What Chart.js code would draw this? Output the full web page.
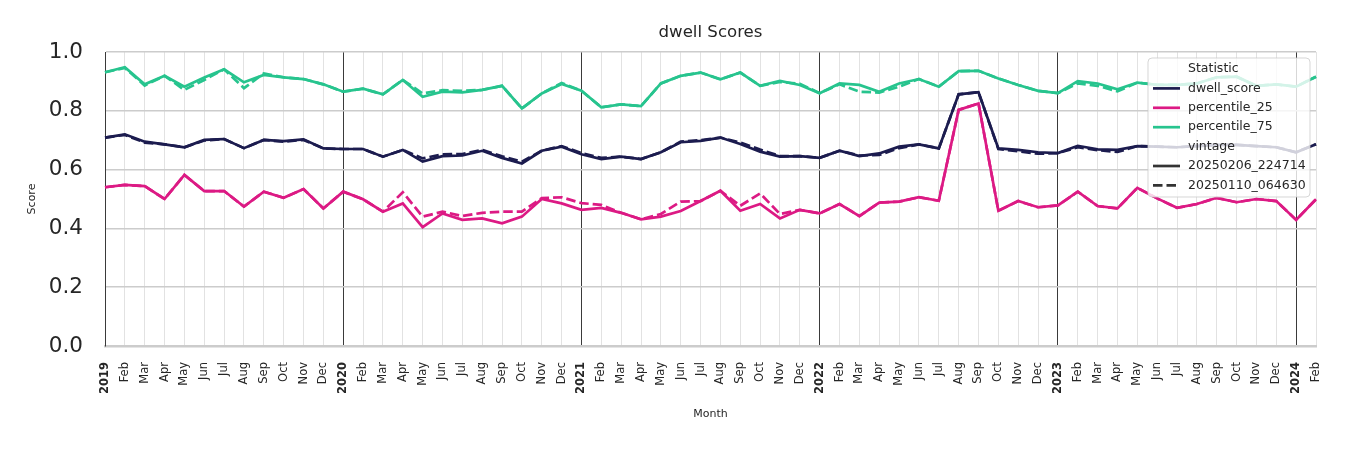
<!DOCTYPE html>
<html>
<head>
<meta charset="utf-8">
<script src="https://cdn.jsdelivr.net/npm/chart.js@4.4.1/dist/chart.umd.min.js"></script>
<style>
  html, body { margin: 0; padding: 0; background: #fff; }
  #wrap { width: 1350px; height: 450px; }
</style>
</head>
<body>
<div id="wrap"><canvas id="chart" width="1350" height="450"></canvas></div>
<script>
// month labels, Jan 2019 .. Feb 2024 (year shown on January)
const months = [];
const monthNames = ['Jan','Feb','Mar','Apr','May','Jun','Jul','Aug','Sep','Oct','Nov','Dec'];
for (let y = 2019; y <= 2024; y++) {
    for (let m = 0; m < 12; m++) {
        if (y === 2024 && m > 1) break;
        months.push(m === 0 ? String(y) : monthNames[m]);
    }
}

const chartTitle = 'dwell Scores';
const statistics = ['dwell_score', 'percentile_25', 'percentile_75'];
const vintages = ['20250206_224714', '20250110_064630'];

// vintage 20250206_224714 (solid)
const dwellScore = [
    0.709, 0.720, 0.695, 0.686, 0.676, 0.701, 0.704, 0.673, 0.701, 0.697, 0.703, 0.672,
    0.670, 0.670, 0.644, 0.667, 0.627, 0.646, 0.648, 0.664, 0.640, 0.621, 0.664, 0.678,
    0.652, 0.636, 0.644, 0.636, 0.659, 0.693, 0.698, 0.709, 0.687, 0.661, 0.644, 0.646,
    0.640, 0.664, 0.646, 0.655, 0.678, 0.686, 0.672, 0.856, 0.863, 0.672, 0.667, 0.659,
    0.656, 0.681, 0.669, 0.667, 0.680, 0.678, 0.676, 0.680, 0.684, 0.684, 0.680, 0.676,
    0.659, 0.686
];
const percentile25 = [
    0.540, 0.548, 0.544, 0.500, 0.582, 0.527, 0.527, 0.474, 0.525, 0.504, 0.534, 0.468,
    0.525, 0.499, 0.457, 0.485, 0.404, 0.451, 0.429, 0.434, 0.417, 0.440, 0.500, 0.485,
    0.463, 0.470, 0.453, 0.431, 0.440, 0.459, 0.493, 0.528, 0.460, 0.483, 0.434, 0.463,
    0.451, 0.483, 0.442, 0.488, 0.491, 0.506, 0.494, 0.803, 0.825, 0.460, 0.493, 0.472,
    0.478, 0.525, 0.476, 0.468, 0.538, 0.502, 0.470, 0.483, 0.504, 0.489, 0.500, 0.493,
    0.429, 0.499
];
const percentile75 = [
    0.931, 0.948, 0.890, 0.919, 0.882, 0.913, 0.941, 0.897, 0.922, 0.914, 0.908, 0.890,
    0.865, 0.875, 0.856, 0.905, 0.848, 0.865, 0.863, 0.871, 0.885, 0.808, 0.859, 0.891,
    0.868, 0.812, 0.822, 0.816, 0.893, 0.919, 0.930, 0.907, 0.930, 0.885, 0.902, 0.888,
    0.860, 0.893, 0.888, 0.865, 0.893, 0.908, 0.882, 0.935, 0.936, 0.910, 0.888, 0.868,
    0.860, 0.901, 0.893, 0.873, 0.896, 0.888, 0.888, 0.893, 0.914, 0.916, 0.885, 0.890,
    0.882, 0.916
];

// vintage 20250110_064630 (dashed)
const dwellScoreOld = [
    0.709, 0.718, 0.692, 0.686, 0.676, 0.699, 0.704, 0.673, 0.701, 0.695, 0.701, 0.672,
    0.670, 0.670, 0.644, 0.667, 0.638, 0.652, 0.653, 0.667, 0.645, 0.627, 0.664, 0.680,
    0.656, 0.640, 0.644, 0.636, 0.659, 0.695, 0.700, 0.709, 0.692, 0.668, 0.646, 0.646,
    0.640, 0.664, 0.648, 0.650, 0.673, 0.686, 0.672, 0.856, 0.863, 0.670, 0.662, 0.654,
    0.656, 0.676, 0.666, 0.660, 0.680, 0.678, 0.676, 0.680, 0.684, 0.684, 0.680, 0.676,
    0.659, 0.686
];
const percentile25Old = [
    0.540, 0.548, 0.544, 0.500, 0.582, 0.527, 0.527, 0.474, 0.525, 0.504, 0.534, 0.468,
    0.525, 0.499, 0.457, 0.523, 0.440, 0.457, 0.442, 0.453, 0.457, 0.457, 0.503, 0.506,
    0.486, 0.480, 0.453, 0.431, 0.449, 0.491, 0.493, 0.528, 0.477, 0.519, 0.449, 0.463,
    0.451, 0.483, 0.442, 0.488, 0.491, 0.506, 0.494, 0.803, 0.825, 0.460, 0.493, 0.472,
    0.478, 0.525, 0.476, 0.468, 0.538, 0.502, 0.470, 0.483, 0.504, 0.489, 0.500, 0.493,
    0.429, 0.499
];
const percentile75Old = [
    0.931, 0.946, 0.886, 0.919, 0.871, 0.905, 0.941, 0.877, 0.927, 0.914, 0.908, 0.890,
    0.865, 0.875, 0.856, 0.905, 0.859, 0.870, 0.868, 0.871, 0.885, 0.808, 0.859, 0.895,
    0.868, 0.812, 0.822, 0.816, 0.893, 0.919, 0.930, 0.907, 0.930, 0.885, 0.898, 0.892,
    0.860, 0.890, 0.865, 0.862, 0.882, 0.908, 0.882, 0.935, 0.936, 0.910, 0.888, 0.868,
    0.860, 0.893, 0.885, 0.866, 0.896, 0.888, 0.888, 0.893, 0.914, 0.916, 0.885, 0.890,
    0.882, 0.916
];

const yTicks = [0, 0.2, 0.4, 0.6, 0.8, 1.0];

const statColors = ['#1c1c4f', '#dc1a84', '#27c48e'];
const FONT = "'DejaVu Sans', sans-serif";
const DASH = [9.5, 4];

const solidSeries = [dwellScore, percentile25, percentile75];
const dashedSeries = [dwellScoreOld, percentile25Old, percentile75Old];

let datasets = [];
statistics.forEach(function (name, i) {
    datasets.push({
        label: name + ' ' + vintages[1],
        data: dashedSeries[i],
        borderColor: statColors[i],
        borderWidth: 2.7,
        borderDash: DASH,
        pointRadius: 0,
        tension: 0,
        fill: false
    });
    datasets.push({
        label: name + ' ' + vintages[0],
        data: solidSeries[i],
        borderColor: statColors[i],
        borderWidth: 2.7,
        pointRadius: 0,
        tension: 0,
        fill: false
    });
});

// title centred over the plot area (matplotlib style), not over the canvas
const plotTitle = {
    id: 'plotTitle',
    afterDraw(chart) {
        const ctx = chart.ctx;
        const area = chart.chartArea;
        ctx.save();
        ctx.font = '16.6px ' + FONT;
        ctx.fillStyle = '#262626';
        ctx.textAlign = 'center';
        ctx.textBaseline = 'middle';
        ctx.fillText(chartTitle, (area.left + area.right) / 2, 33);
        ctx.restore();
    }
};

// legend drawn inside the plot, top right, like the seaborn one
const innerLegend = {
    id: 'innerLegend',
    afterDatasetsDraw(chart) {
        const ctx = chart.ctx;
        const area = chart.chartArea;
        const w = 162, h = 139;
        const x = area.right - 6 - w, y = area.top + 6;
        const rows = [];
        rows.push({ text: 'Statistic', title: true });
        statistics.forEach(function (s, i) { rows.push({ text: s, color: statColors[i] }); });
        rows.push({ text: 'vintage', title: true });
        rows.push({ text: vintages[0], color: '#333333' });
        rows.push({ text: vintages[1], color: '#333333', dash: DASH });

        ctx.save();
        ctx.beginPath();
        ctx.roundRect(x, y, w, h, 4);
        ctx.fillStyle = 'rgba(255,255,255,0.8)';
        ctx.fill();
        ctx.strokeStyle = 'rgba(204,204,204,0.8)';
        ctx.lineWidth = 1;
        ctx.stroke();

        ctx.font = '12.5px ' + FONT;
        ctx.textBaseline = 'middle';
        ctx.textAlign = 'left';
        rows.forEach(function (r, i) {
            const ry = y + 11 + i * 19.4;
            if (!r.title) {
                ctx.beginPath();
                ctx.setLineDash(r.dash || []);
                ctx.strokeStyle = r.color;
                ctx.lineWidth = 2.7;
                ctx.moveTo(x + 5, ry);
                ctx.lineTo(x + 32, ry);
                ctx.stroke();
                ctx.setLineDash([]);
            }
            ctx.fillStyle = '#262626';
            ctx.fillText(r.text, x + 40, ry);
        });
        ctx.restore();
    }
};

new Chart(document.getElementById('chart'), {
    type: 'line',
    data: { labels: months, datasets: datasets },
    options: {
        responsive: false,
        animation: false,
        layout: { padding: { left: 0, right: 34, top: 52, bottom: 0 } },
        plugins: {
            legend: { display: false },
            tooltip: { enabled: false },
            title: { display: false }
        },
        scales: {
            x: {
                type: 'category',
                offset: false,
                grid: {
                    drawTicks: false,
                    color: function (c) { return c.index % 12 === 0 ? '#3a3a3a' : '#e2e2e2'; },
                    lineWidth: 1
                },
                border: { display: true, color: '#cccccc', width: 2.5 },
                ticks: {
                    autoSkip: false,
                    maxRotation: 90,
                    minRotation: 90,
                    padding: 16,
                    color: '#262626',
                    font: function (c) {
                        return { family: FONT, size: 11.5, weight: c.index % 12 === 0 ? 'bold' : 'normal' };
                    }
                },
                title: {
                    display: true,
                    text: 'Month',
                    color: '#262626',
                    font: { family: FONT, size: 11 },
                    padding: { top: 0, bottom: 29 }
                },
                afterFit: function (s) { s.height = 104; }
            },
            y: {
                min: 0,
                max: 1,
                afterBuildTicks: function (s) { s.ticks = yTicks.map(function (v) { return { value: v }; }); },
                grid: { drawTicks: false, color: '#cccccc', lineWidth: 1.5 },
                border: { display: true, color: '#3a3a3a', width: 1 },
                ticks: {
                    padding: 22,
                    color: '#262626',
                    font: { family: FONT, size: 21.5 },
                    callback: function (v) { return Number(v).toFixed(1); }
                },
                title: {
                    display: true,
                    text: 'Score',
                    color: '#262626',
                    font: { family: FONT, size: 11 },
                    padding: { top: 26, bottom: 0 }
                },
                afterFit: function (s) { s.width = 105; }
            }
        }
    },
    plugins: [plotTitle, innerLegend]
});
</script>
</body>
</html>
